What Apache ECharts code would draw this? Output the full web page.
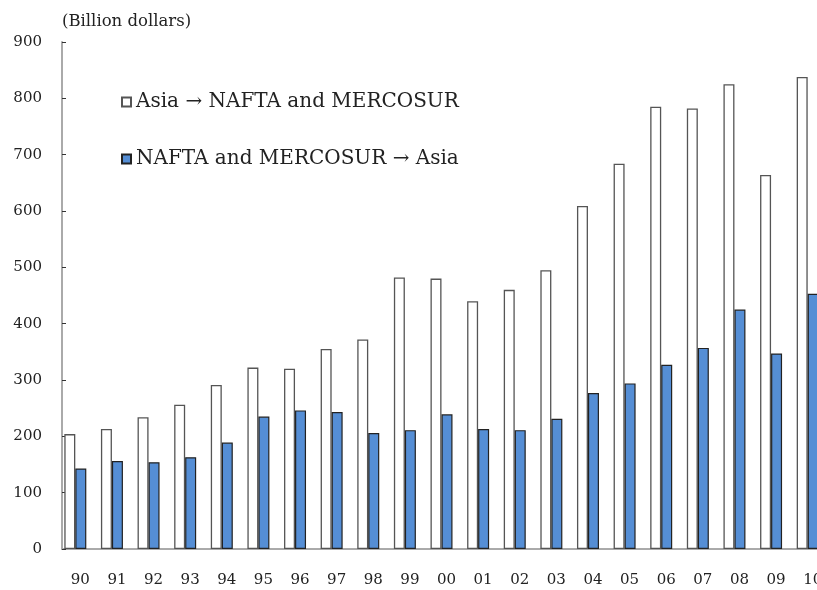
<!DOCTYPE html>
<html>
<head>
<meta charset="utf-8">
<script src="https://cdn.jsdelivr.net/npm/echarts@6/dist/echarts.min.js"></script>
<style>
  html, body { margin: 0; padding: 0; background: #fff; }
  #chart { width: 817px; height: 590px; }
</style>
</head>
<body>
<div id="chart"></div>
<script>
const years = ['90', '91', '92', '93', '94', '95', '96', '97', '98', '99', '00',
  '01', '02', '03', '04', '05', '06', '07', '08', '09', '10'];
const asiaToAmericas = [204, 213, 234, 256, 291, 322, 320, 355, 372, 482, 480,
  440, 460, 495, 609, 684, 785, 782, 825, 664, 838];
const americasToAsia = [143, 156, 154, 163, 189, 235, 246, 243, 206, 211, 239,
  213, 211, 231, 277, 294, 327, 357, 425, 347, 453];
const legendNames = ['Asia \u2192 NAFTA and MERCOSUR', 'NAFTA and MERCOSUR \u2192 Asia'];
// empty slot so the two bars sit left of centre like the original
const spacer = years.map(() => 0);

const font = '"DejaVu Serif", serif';
const chart = echarts.init(document.getElementById('chart'));

const option = {
  animation: false,
  title: {
    text: '(Billion dollars)',
    left: 57,
    top: 8,
    textStyle: { fontFamily: font, fontSize: 16.5, fontWeight: 'normal', color: '#222' }
  },
  legend: {
    data: legendNames,
    orient: 'vertical',
    left: 116,
    top: 87,
    itemGap: 37,
    itemWidth: 9,
    itemHeight: 9,
    icon: 'rect',
    textStyle: { fontFamily: font, fontSize: 20, color: '#222' }
  },
  grid: {
    left: 62,
    top: 42,
    width: 769,
    bottom: 41,
    outerBoundsMode: 'none'
  },
  xAxis: {
    type: 'category',
    data: years,
    axisLine: { lineStyle: { color: '#aaa', width: 2 } },
    axisTick: { inside: true, length: 4, lineStyle: { color: '#333' } },
    axisLabel: { margin: 24, fontFamily: font, fontSize: 15, color: '#222' }
  },
  yAxis: {
    type: 'value',
    min: 0,
    max: 900,
    interval: 100,
    axisLine: { show: true, lineStyle: { color: '#aaa', width: 2 } },
    axisTick: { show: true, inside: true, length: 4, lineStyle: { color: '#333' } },
    splitLine: { show: false },
    axisLabel: { margin: 20, fontFamily: font, fontSize: 15, color: '#222' }
  },
  series: [
    {
      name: legendNames[0],
      type: 'bar',
      data: asiaToAmericas,
      barWidth: 11,
      barGap: 0,
      itemStyle: { color: '#fff', borderColor: '#555', borderWidth: 1.3 }
    },
    {
      name: legendNames[1],
      type: 'bar',
      data: americasToAsia,
      barWidth: 11,
      barGap: 0,
      itemStyle: { color: '#558ed5', borderColor: '#222', borderWidth: 1.2 }
    },
    {
      name: 'spacer',
      type: 'bar',
      data: spacer,
      barWidth: 10,
      barGap: 0,
      silent: true,
      itemStyle: { color: 'rgba(0,0,0,0)' }
    }
  ]
};
chart.setOption(option);
</script>
</body>
</html>
